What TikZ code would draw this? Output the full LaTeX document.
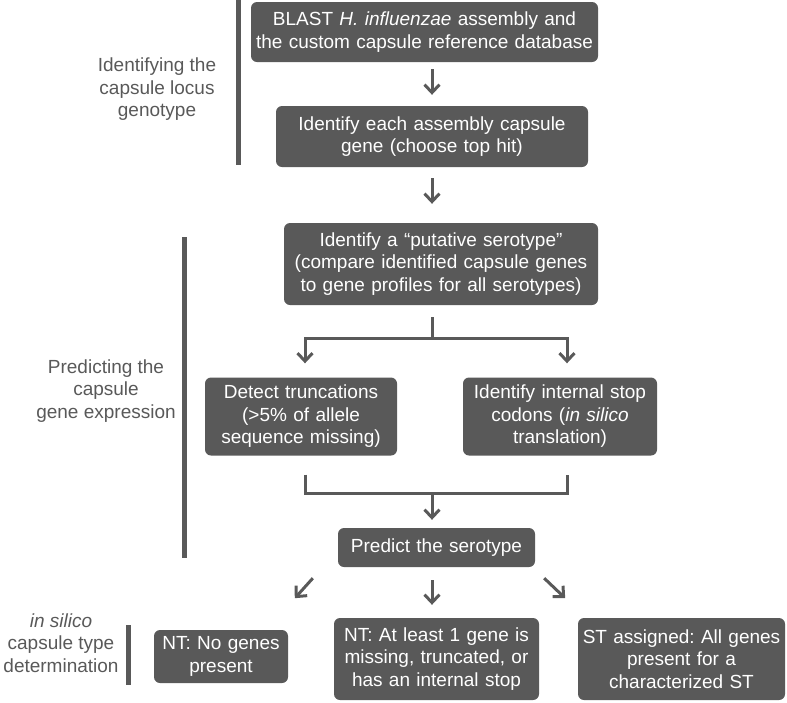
\documentclass[tikz,border=0pt]{standalone}
\usepackage{fontspec}
\setmainfont{Liberation Sans}
\usetikzlibrary{arrows.meta}
\definecolor{boxgray}{HTML}{595959}
\colorlet{boxfgcolor}{white}
\newcommand{\boxfont}{\fontsize{19}{22.5}\selectfont}
\frenchspacing

\tikzset{
  stepbox/.style={rectangle, rounded corners=6pt, fill=boxgray, text=boxfgcolor,
    inner sep=0pt, align=center, font=\boxfont},
  sidelabel/.style={text=boxgray, align=center, font=\boxfont},
  link/.style={draw=boxgray, line width=3pt},
  arrow/.style={link, -{Straight Barb[length=8pt,width=15pt]}},
  sidebar/.style={draw=boxgray, line width=5pt},
}

\begin{document}
\begin{tikzpicture}[x=1pt, y=-1pt]
  \useasboundingbox (0,0) rectangle (787,702);

  % steps
  \node (blast) [stepbox, text width=347pt, minimum height=60pt] at (424.5,32)
    {BLAST \textit{H. influenzae} assembly and\\the custom capsule reference database};
  \node (genehit) [stepbox, text width=312pt, minimum height=61pt] at (432,136.5)
    {Identify each assembly capsule\\gene (choose top hit)};
  \node (putative) [stepbox, text width=314pt, minimum height=82pt] at (441,264)
    {Identify a “putative serotype”\\(compare identified capsule genes\\to gene profiles for all serotypes)};
  \node (truncation) [stepbox, text width=192pt, minimum height=78pt] at (301,416.5)
    {Detect truncations\\(>5\% of allele\\sequence missing)};
  \node (stopcodon) [stepbox, text width=194pt, minimum height=78pt] at (560,416.5)
    {Identify internal stop\\codons (\textit{in silico}\\translation)};
  \node (serotype) [stepbox, text width=197pt, minimum height=39pt] at (436.5,547.5)
    {Predict the serotype};
  \node (nogene) [stepbox, text width=134pt, minimum height=53pt] at (221,656.5)
    {NT: No genes\\present};
  \node (anygene) [stepbox, text width=205pt, minimum height=82pt] at (436.5,659)
    {NT: At least 1 gene is\\missing, truncated, or\\has an internal stop};
  \node (assigned) [stepbox, text width=207pt, minimum height=82pt] at (681.5,659)
    {ST assigned: All genes\\present for a\\characterized ST};

  % phases
  \node (locus) [sidelabel] at (157,89.5) {Identifying the\\capsule locus\\genotype};
  \node (expression) [sidelabel] at (106,391) {Predicting the\\capsule\\gene expression};
  \node (typing) [sidelabel] at (61,643) {\textit{in silico}\\capsule type\\determination};
  \draw [sidebar] (238,0) -- (238,165);
  \draw [sidebar] (184,237) -- (184,558);
  \draw [sidebar] (128,625) -- (128,685);

  % arrows
  \draw [arrow, shorten <=7pt, shorten >=11pt] (blast.south -| genehit) -- (genehit.north);
  \draw [arrow, shorten <=11pt, shorten >=19pt] (genehit.south) -- (genehit.south |- putative.north);

  \coordinate (fork) at (432,338);
  \draw [link, shorten <=12pt] (putative.south -| fork) -- (fork);
  \draw [arrow, shorten >=14pt] (fork) -| ([xshift=4pt]truncation.north);
  \draw [arrow, shorten >=14pt] (fork) -| ([xshift=7pt]stopcodon.north);

  \coordinate (join) at (432,493);
  \draw [link] ([xshift=4pt,yshift=-19pt]truncation.south) |- (join)
    -| ([xshift=7pt,yshift=-19pt]stopcodon.south);
  \draw [arrow, shorten >=8pt] (join) -- (join |- serotype.north);

  \draw [arrow] ([shift={(-25pt,-11pt)}]serotype.south west) -- ++(-18,20);
  \draw [arrow, shorten <=13pt, shorten >=13pt] (serotype.south -| join) -- (anygene.north -| join);
  \draw [arrow] ([shift={(9pt,-11pt)}]serotype.south east) -- ++(21,20);
\end{tikzpicture}
\end{document}
